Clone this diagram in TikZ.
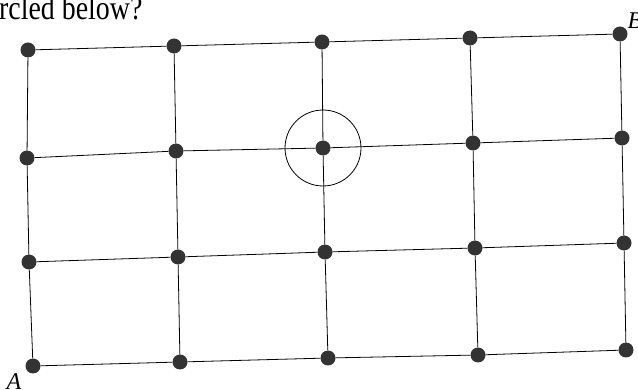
\documentclass[tikz,border=0pt]{standalone}
\usepackage{fontspec}
\setmainfont{Liberation Serif}
\usetikzlibrary{positioning}

\begin{document}
\begin{tikzpicture}[x=1pt, y=-1pt,
  every node/.style={font=\fontsize{26}{28}\selectfont},
  dot/.style={circle, fill=black!80, minimum size=15pt, inner sep=0pt},
  gridline/.style={line width=0.8pt},
  ring/.style={draw, circle, line width=0.8pt, minimum size=76pt, inner sep=0pt},
  corner/.style={font=\fontsize{24}{26}\selectfont\itshape, inner sep=0pt}
]
\useasboundingbox (0,0) rectangle (638,390);

% the header text, cut off by the page edge
\node[anchor=base west, inner sep=0pt, font=\fontsize{34}{36}\selectfont,
  xscale=0.82, transform shape] (head) at (-1,19.5) {rcled below?};

% dots, row by row (the scan is slightly tilted)
\foreach \r/\c/\x/\y in {
  1/1/28/50, 1/2/174/46, 1/3/322/42, 1/4/470/38, 1/5/620/34,
  2/1/27/158, 2/2/176/151, 2/3/323/148, 2/4/473/143, 2/5/622/138,
  3/1/29/262, 3/2/178/257, 3/3/325/252, 3/4/475/248, 3/5/624/243,
  4/1/33/366, 4/2/180/362, 4/3/328/358, 4/4/478/355, 4/5/626/350}
  \node[dot] (p\r\c) at (\x,\y) {};

% rows and columns
\foreach \r in {1,...,4}
  \draw[gridline] (p\r1) -- (p\r2) -- (p\r3) -- (p\r4) -- (p\r5);
\foreach \c in {1,...,5}
  \draw[gridline] (p1\c) -- (p2\c) -- (p3\c) -- (p4\c);

\node[ring] (mark) at (p23) {};

\node[corner, anchor=north east] (lblA) at ([xshift=-6pt,yshift=-2pt]p41.south west) {A};
\node[corner, anchor=south west] (lblB) at ([xshift=2pt]p15.north east) {B};
\end{tikzpicture}
\end{document}
